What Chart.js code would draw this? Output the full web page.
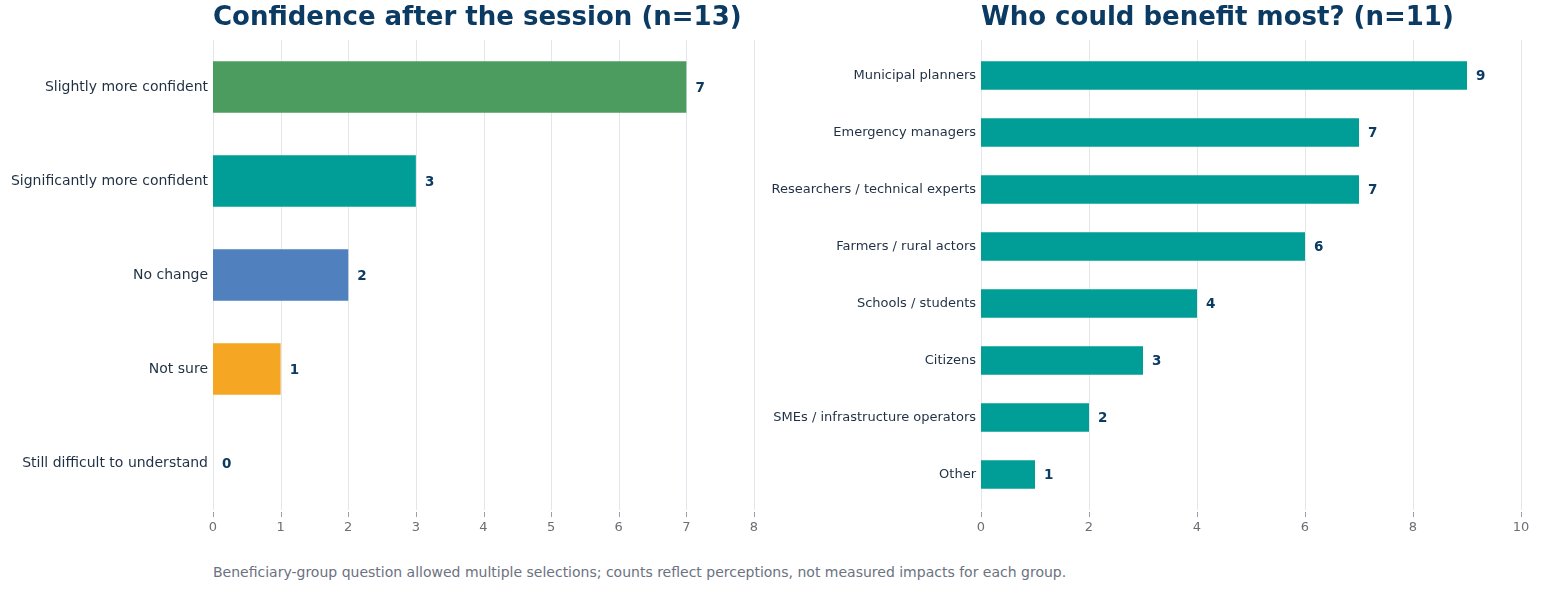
<!DOCTYPE html>
<html>
<head>
<meta charset="utf-8">
<script src="https://cdn.jsdelivr.net/npm/chart.js@4.4.1/dist/chart.umd.min.js"></script>
<style>
  html,body{margin:0;padding:0;background:#fff;}
  #wrap{position:relative;width:1541px;height:592px;font-family:"DejaVu Sans",sans-serif;}
  .box{position:absolute;top:0;height:545px;}
  #note{position:absolute;left:213px;top:564px;font-size:14px;color:#6b7280;white-space:nowrap;}
</style>
</head>
<body>
<div id="wrap">
  <div class="box" style="left:0;width:770px;"><canvas id="left-chart"></canvas></div>
  <div class="box" style="left:770px;width:771px;"><canvas id="right-chart"></canvas></div>
  <div id="note">Beneficiary-group question allowed multiple selections; counts reflect perceptions, not measured impacts for each group.</div>
</div>
<script>
// confidence question
const confLabels = ["Slightly more confident", "Significantly more confident", "No change", "Not sure", "Still difficult to understand"];
const confValues = [7, 3, 2, 1, 0];
const confColors = ["#4c9c5f", "#009e96", "#5080be", "#f5a623", "#9aa5b1"];
const confTitle = "Confidence after the session (n=13)";

// beneficiary question
const benLabels = ["Municipal planners", "Emergency managers", "Researchers / technical experts", "Farmers / rural actors", "Schools / students", "Citizens", "SMEs / infrastructure operators", "Other"];
const benValues = [9, 7, 7, 6, 4, 3, 2, 1];
const benTitle = "Who could benefit most? (n=11)";

const FONT = "'DejaVu Sans', sans-serif";
const NAVY = "#0b3a63";

// title at chart-area left, bar value labels, grid lines over a fixed band
const extras = {
  id: "extras",
  afterDraw(chart, args, opts){
    const ctx = chart.ctx;
    const area = chart.chartArea;
    ctx.save();
    ctx.font = "bold 26px " + FONT;
    ctx.fillStyle = NAVY;
    ctx.textBaseline = "alphabetic";
    ctx.textAlign = "left";
    ctx.fillText(opts.title, area.left, 25);

    ctx.font = "bold 13.5px " + FONT;
    ctx.textBaseline = "middle";
    const meta = chart.getDatasetMeta(0);
    meta.data.forEach((bar, i) => {
      const v = chart.data.datasets[0].data[i];
      ctx.fillText(String(v), bar.x + 9, bar.y + 1);
    });
    ctx.restore();
  },
  beforeDatasetsDraw(chart, args, opts){
    const ctx = chart.ctx;
    const x = chart.scales.x;
    ctx.save();
    ctx.lineWidth = 1;
    x.ticks.forEach(t => {
      const px = Math.round(x.getPixelForValue(t.value)) + 0.5;
      ctx.strokeStyle = "#e3e6ea";
      ctx.beginPath();
      ctx.moveTo(px, opts.top);
      ctx.lineTo(px, opts.bottom);
      ctx.stroke();
      ctx.strokeStyle = "#9aa0a6";
      ctx.beginPath();
      ctx.moveTo(px, opts.bottom + 2);
      ctx.lineTo(px, opts.bottom + 7);
      ctx.stroke();
    });
    ctx.restore();
  }
};

function makeChart(id, labels, values, colors, cfg){
  return new Chart(document.getElementById(id), {
    type: "bar",
    data: {
      labels,
      datasets: [{
        data: values,
        backgroundColor: colors,
        borderWidth: 0,
        barPercentage: cfg.barPct,
        categoryPercentage: 1
      }]
    },
    options: {
      indexAxis: "y",
      responsive: true,
      maintainAspectRatio: false,
      animation: false,
      layout: { padding: { top: cfg.top, right: cfg.right, left: 0, bottom: 0 } },
      plugins: {
        legend: { display: false },
        tooltip: { enabled: false },
        extras: { title: cfg.title, top: 40, bottom: 510 }
      },
      scales: {
        x: {
          min: 0, max: cfg.max,
          ticks: { stepSize: cfg.step, color: "#6b6f75", font: { family: FONT, size: 13 }, padding: cfg.tickPad },
          grid: { display: false, drawTicks: false },
          border: { display: false },
          afterFit(s){ s.height = cfg.xh; s.paddingLeft = 0; s.paddingRight = 0; }
        },
        y: {
          ticks: { color: "#1f3044", font: { family: FONT, size: cfg.labelSize }, padding: 5 },
          grid: { display: false, drawTicks: false },
          border: { display: false },
          afterFit(s){ s.width = cfg.yw; }
        }
      }
    },
    plugins: [extras]
  });
}

makeChart("left-chart", confLabels, confValues, confColors,
  { title: confTitle, max: 8, step: 1, barPct: 0.55, top: 40, right: 16, xh: 35, tickPad: 10, yw: 213, labelSize: 14 });
makeChart("right-chart", benLabels, benValues, "#009e96",
  { title: benTitle, max: 10, step: 2, barPct: 0.5, top: 47, right: 20, xh: 42, tickPad: 17, yw: 211, labelSize: 13 });
</script>
</body>
</html>
